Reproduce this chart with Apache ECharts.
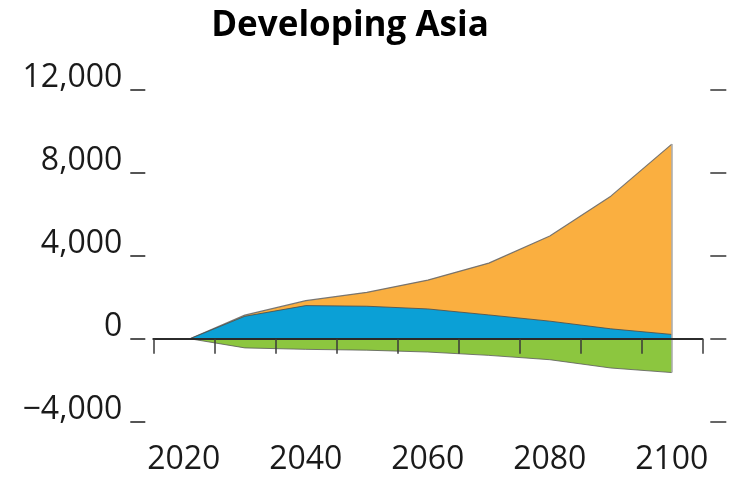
<!DOCTYPE html>
<html>
<head>
<meta charset="utf-8">
<script src="https://cdn.jsdelivr.net/npm/echarts@6/dist/echarts.min.js"></script>
<style>
  html, body { margin: 0; padding: 0; background: #fff; }
  #chart { width: 741px; height: 481px; }
</style>
</head>
<body>
<div id="chart"></div>
<script>
// Decade steps of the projection
const years = [2021, 2030, 2040, 2050, 2060, 2070, 2080, 2090, 2100];
// Positive layers (blue at the bottom, orange on top of it)
const blueBand   = [0, 1085, 1600, 1570, 1440, 1150, 850, 480, 210];
const orangeBand = [0, 55, 240, 670, 1390, 2500, 4110, 6400, 9180];
// Negative layer below zero
const greenBand  = [0, -440, -510, -550, -640, -800, -1010, -1410, -1630];

// Axis ticks and labels
const xTickYears = [2015, 2025, 2035, 2045, 2055, 2065, 2075, 2085, 2095, 2105];
const xLabelYears = [2020, 2040, 2060, 2080, 2100];

const pairs = arr => years.map((y, i) => [y, arr[i]]);
// Upper edge of the orange layer = blue + orange
const upperEdge = blueBand.map((v, i) => v + orangeBand[i]);
const last = years.length - 1;

const FONT = '"Open Sans", "Noto Sans", sans-serif';
const fmt = v => (v < 0 ? '\u2212' : '') + Math.abs(v).toLocaleString('en-US');

const chart = echarts.init(document.getElementById('chart'), null, { renderer: 'canvas' });

chart.setOption({
  animation: false,
  backgroundColor: '#ffffff',
  title: {
    text: 'Developing Asia',
    left: 345,
    top: 4,
    textAlign: 'center',
    textStyle: { fontFamily: FONT, fontWeight: 'bold', fontSize: 35, color: '#000' }
  },
  grid: { left: 153.3, right: 38.7, top: 90, bottom: 59.3, containLabel: false },
  xAxis: [
    {
      // zero line with downward ticks
      type: 'value', min: 2015, max: 2105, position: 'bottom',
      z: 5,
      axisLine: { show: true, onZero: true, lineStyle: { color: '#2b2b2b', width: 2 } },
      axisTick: { show: true, length: 15, customValues: xTickYears, lineStyle: { color: '#3a3a3a', width: 1.5 } },
      axisLabel: { show: false },
      splitLine: { show: false }
    },
    {
      // year labels along the bottom
      type: 'value', min: 2015, max: 2105, position: 'bottom',
      axisLine: { show: false, onZero: false },
      axisTick: { show: false },
      axisLabel: {
        show: true, customValues: xLabelYears, margin: 22,
        fontFamily: FONT, fontSize: 32, color: '#1a1a1a',
        formatter: v => String(v)
      },
      splitLine: { show: false }
    }
  ],
  yAxis: [
    {
      type: 'value', min: -4000, max: 12000, interval: 4000, position: 'left', offset: 8,
      axisLine: { show: false },
      axisTick: { show: true, length: 15, inside: false, lineStyle: { color: '#555', width: 2 } },
      axisLabel: {
        show: true, margin: 23, fontFamily: FONT, fontSize: 32, color: '#1a1a1a',
        verticalAlign: 'bottom', lineHeight: 24,
        formatter: fmt
      },
      splitLine: { show: false }
    },
    {
      type: 'value', min: -4000, max: 12000, interval: 4000, position: 'right', offset: 8,
      axisLine: { show: false },
      axisTick: { show: true, length: 16, inside: false, lineStyle: { color: '#666', width: 2 } },
      axisLabel: { show: false },
      splitLine: { show: false }
    }
  ],
  series: [
    {
      // filled from zero to the upper edge; the blue layer covers its lower part
      name: 'orange', type: 'line', xAxisIndex: 0, yAxisIndex: 0,
      data: pairs(upperEdge), showSymbol: false, smooth: false,
      lineStyle: { color: '#6a6a6a', width: 1.2, opacity: 0.9 },
      areaStyle: { color: '#FAAF40', opacity: 1, origin: 0 },
      z: 2
    },
    {
      name: 'blue', type: 'line', xAxisIndex: 0, yAxisIndex: 0,
      data: pairs(blueBand), showSymbol: false, smooth: false,
      lineStyle: { color: '#4a4a4a', width: 1, opacity: 0.8 },
      areaStyle: { color: '#0BA0D6', opacity: 1, origin: 0 },
      z: 3
    },
    {
      name: 'green', type: 'line', xAxisIndex: 0, yAxisIndex: 0,
      data: pairs(greenBand), showSymbol: false, smooth: false,
      lineStyle: { color: '#5a5a5a', width: 1, opacity: 0.8 },
      areaStyle: { color: '#8CC63F', opacity: 1, origin: 0 },
      z: 3,
      markLine: {
        silent: true, symbol: 'none', label: { show: false },
        lineStyle: { color: '#a8a8a8', width: 1.5, type: 'solid' },
        data: [[
          { coord: [years[last], greenBand[last]] },
          { coord: [years[last], upperEdge[last]] }
        ]]
      }
    }
  ]
});
</script>
</body>
</html>
